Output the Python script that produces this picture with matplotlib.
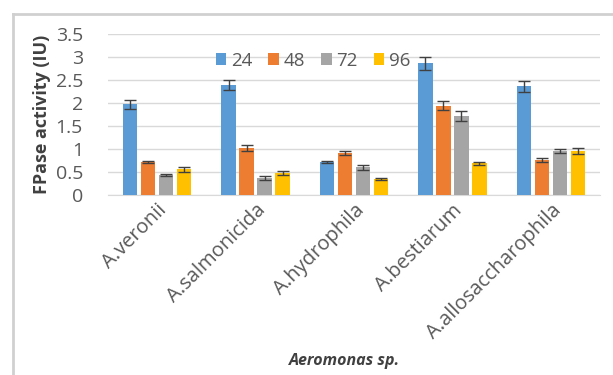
import numpy as np
import matplotlib.pyplot as plt
from matplotlib.lines import Line2D

plt.rcParams['font.family'] = ['Open Sans', 'DejaVu Sans']

species = ["A.veronii", "A.salmonicida", "A.hydrophila", "A.bestiarum", "A.allosaccharophila"]
hours = ["24", "48", "72", "96"]
vals_24 = [1.97, 2.39, 0.72, 2.87, 2.37]
vals_48 = [0.72, 1.02, 0.91, 1.94, 0.76]
vals_72 = [0.44, 0.37, 0.60, 1.72, 0.96]
vals_96 = [0.56, 0.48, 0.35, 0.69, 0.96]
err_24 = [0.10, 0.11, 0.03, 0.14, 0.12]
err_48 = [0.03, 0.07, 0.05, 0.10, 0.04]
err_72 = [0.02, 0.05, 0.05, 0.11, 0.05]
err_96 = [0.05, 0.04, 0.03, 0.03, 0.06]
colors = ["#5B9BD5", "#ED7D31", "#A5A5A5", "#FFC000"]

fig = plt.figure(figsize=(6.13, 3.75), dpi=100)
ax = fig.add_axes([0.176, 0.48, 0.803, 0.429])

x = np.arange(len(species))
series = [vals_24, vals_48, vals_72, vals_96]
errs = [err_24, err_48, err_72, err_96]
pitch = 0.183
for i, (v, e, c, h) in enumerate(zip(series, errs, colors, hours)):
    ax.bar(x + (i - 1.5) * pitch, v, width=0.145, color=c, label=h, zorder=3,
           yerr=e, error_kw=dict(ecolor="#404040", elinewidth=1, capsize=4, capthick=1))

ax.set_xlim(-0.5, 4.5)
ax.set_ylim(0, 3.5)
ax.set_yticks(np.arange(0, 3.51, 0.5))
ax.set_yticklabels(["0", "0.5", "1", "1.5", "2", "2.5", "3", "3.5"])
ax.yaxis.grid(True, color="#D9D9D9", linewidth=1, zorder=0)
for s in ["top", "right", "left"]:
    ax.spines[s].set_visible(False)
ax.spines["bottom"].set_color("#D9D9D9")
ax.tick_params(axis="both", length=0, colors="#595959")
ax.tick_params(axis="y", pad=18, labelsize=14)
ax.tick_params(axis="x", pad=4)
ax.set_xticks(x)
ax.set_xticklabels(species, rotation=45, ha="right", va="top", rotation_mode="anchor", fontsize=14.5)
for lbl in ax.get_xticklabels():
    lbl.set_x(lbl.get_position()[0] + 0.09)

ax.set_ylabel("FPase activity (IU)", fontsize=13, color="#404040", fontweight="bold", labelpad=3)
fig.text(0.562, 0.027, "Aeromonas sp.", fontsize=11.5, color="#404040", fontweight="bold",
         style="italic", ha="center")

ax.legend(loc="upper left", bbox_to_anchor=(0.2, 0.95), ncol=4, frameon=False,
          fontsize=13.5, handlelength=0.55, handleheight=0.55, handletextpad=0.27,
          columnspacing=0.85, borderpad=0, labelcolor="#595959")

# outer frame (left and top edges only)
fig.add_artist(Line2D([0.021, 0.021], [0.0, 0.963], color="#D0D0D0", lw=2, transform=fig.transFigure))
fig.add_artist(Line2D([0.021, 1.0], [0.963, 0.963], color="#D0D0D0", lw=2, transform=fig.transFigure))

plt.savefig("out.png", dpi=100)
